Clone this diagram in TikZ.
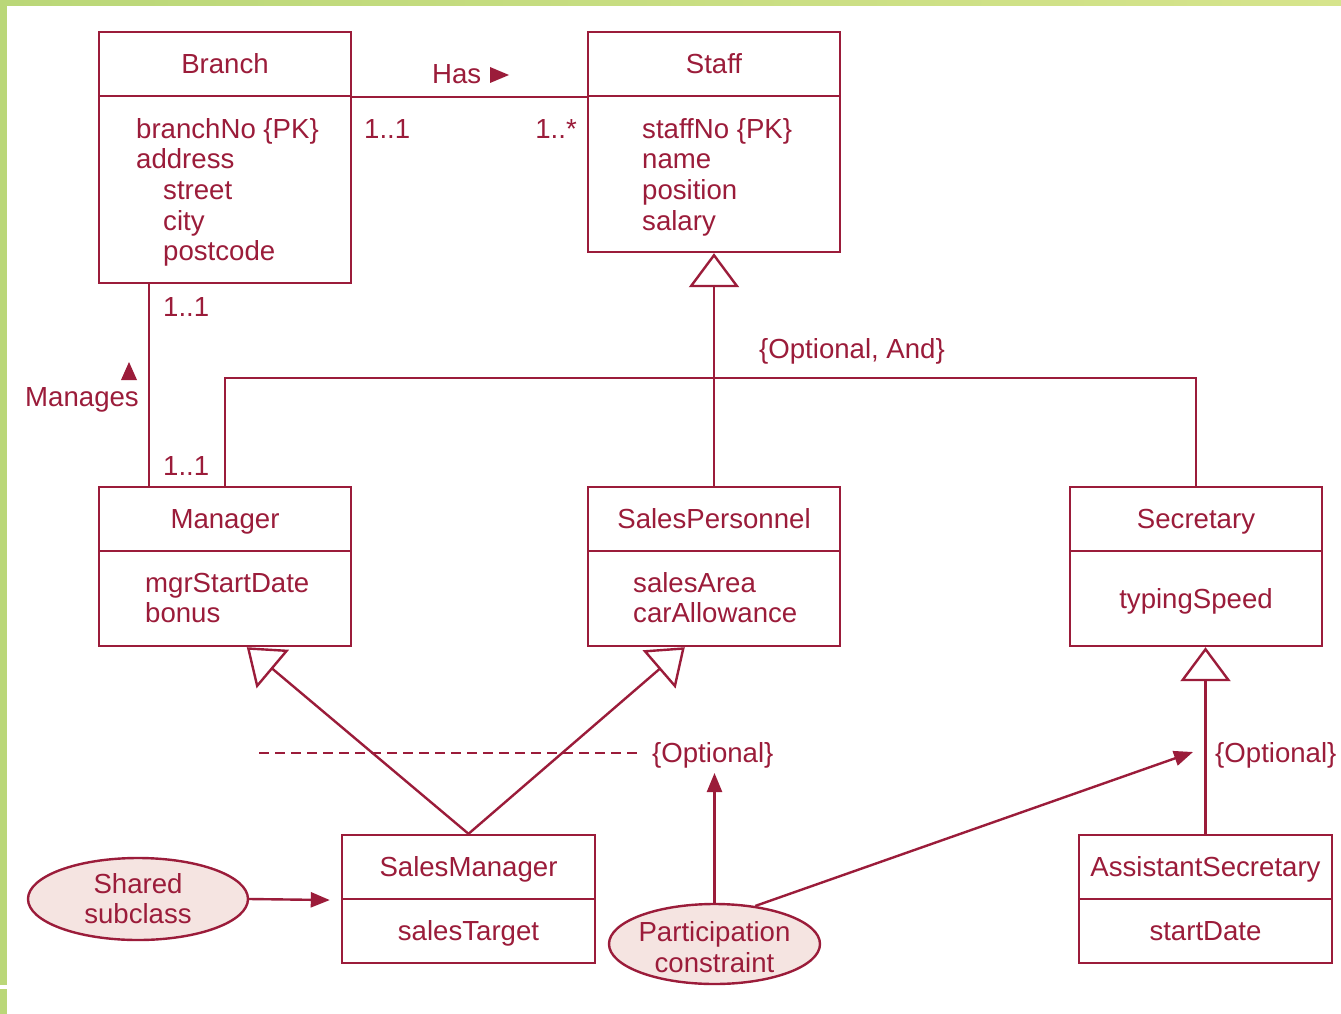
\documentclass[tikz,border=0pt]{standalone}
\usepackage{fontspec}
\setmainfont{Liberation Sans}
\usetikzlibrary{arrows.meta,shapes.geometric}
\definecolor{uml}{RGB}{155,28,58}
\definecolor{pinkfill}{RGB}{245,228,225}
\definecolor{grn}{RGB}{186,215,120}
\definecolor{grnl}{RGB}{214,228,140}
\begin{document}
\begin{tikzpicture}[x=1pt,y=-1pt,
  every node/.style={font=\fontsize{27.6pt}{30.6pt}\selectfont, text=uml},
  hdr/.style={draw=uml, line width=2.4pt, minimum width=252pt, minimum height=64pt, inner sep=0pt, text height=19pt, text depth=0pt},
  bodybox/.style={draw=uml, line width=2.4pt, minimum width=252pt, inner sep=0pt, text height=19pt, text depth=0pt},
  lbl/.style={inner sep=0pt, anchor=base west},
  conn/.style={draw=uml, line width=2.4pt, line join=miter},
  gen/.style={conn, -{Triangle[open,length=34pt,width=50pt]}},
  arr/.style={conn, -{Triangle[length=19pt,width=15pt]}},
  oval/.style={ellipse, draw=uml, fill=pinkfill, line width=2.4pt, minimum width=220pt, minimum height=82pt, inner sep=0pt},
]
\useasboundingbox (0,0) rectangle (1341,1014);
\fill[white] (0,0) rectangle (1341,1014);
\fill[grn] (0,0) rectangle (7,1014);
\shade[left color=grn, right color=grnl] (0,0) rectangle (1341,5.5);
\fill[white] (0,984.5) rectangle (7,988.5);

% classes
\node[hdr] (branch) at (225,64) {Branch};
\node[bodybox, minimum height=187pt] (branchb) at (225,189.5) {};
\node[hdr] (staff) at (714,64) {Staff};
\node[bodybox, minimum height=156pt] (staffb) at (714,174) {};
\node[hdr] (mgr) at (225,519) {Manager};
\node[bodybox, minimum height=95pt] (mgrb) at (225,598.5) {};
\node[hdr] (sp) at (714,519) {SalesPersonnel};
\node[bodybox, minimum height=95pt] (spb) at (714,598.5) {};
\node[hdr] (sec) at (1196,519) {Secretary};
\node[bodybox, minimum height=95pt] (secb) at (1196,598.5) {typingSpeed};
\node[hdr, minimum width=253pt] (sm) at (468.5,867) {SalesManager};
\node[bodybox, minimum width=253pt, minimum height=64pt] (smb) at (468.5,931) {salesTarget};
\node[hdr, minimum width=253pt] (asst) at (1205.5,867) {AssistantSecretary};
\node[bodybox, minimum width=253pt, minimum height=64pt] (asstb) at (1205.5,931) {startDate};

% attributes
\node[lbl] (ba) at (136,138.3) {\begin{tabular}[t]{@{}l@{}}branchNo \{PK\}\\address\\\hspace{27pt}street\\\hspace{27pt}city\\\hspace{27pt}postcode\end{tabular}};
\node[lbl] (sa) at (642,138.3) {\begin{tabular}[t]{@{}l@{}}staffNo \{PK\}\\name\\position\\salary\end{tabular}};
\node[lbl] (ma) at (145,592) {\begin{tabular}[t]{@{}l@{}}mgrStartDate\\bonus\end{tabular}};
\node[lbl] (spa) at (633,592) {\begin{tabular}[t]{@{}l@{}}salesArea\\carAllowance\end{tabular}};

% Has association
\draw[conn] (branch.south east) -- (staff.south west);
\node[lbl] (hasl) at (432,83.3) {Has};
\fill[uml] (490,67) -- (490,83) -- (509,75) -- cycle;
\node[lbl] (m1) at (364,138.3) {1..1};
\node[lbl, anchor=base east] (m2) at (577,138.3) {1..*};

% Manages association
\draw[conn] ([xshift=51pt]branchb.south west) -- ([xshift=51pt]mgr.north west);
\node[lbl] (m3) at (163,316) {1..1};
\node[lbl] (m4) at (163,475) {1..1};
\node[lbl, anchor=base] (manl) at (82,406) {Manages};
\fill[uml] (121,380) -- (137,380) -- (129,362) -- cycle;

% generalization Staff
\coordinate (jn) at (714,378);
\draw[gen] (sp.north) -- (staffb.south);
\draw[conn] (mgr.north) |- (jn) -| (sec.north);
\node[lbl, anchor=base] (oa) at (852,358) {\{Optional, And\}};

% SalesManager shared subclass
\draw[gen] (sm.north) -- ([xshift=149pt]mgrb.south west);
\draw[gen] (sm.north) -- ([xshift=98pt]spb.south west);
\node[lbl] (opt1) at (652,762) {\{Optional\}};
\coordinate (ds) at (259,753);
\draw[conn, dash pattern=on 10pt off 6pt] (ds) -- ([xshift=-11pt]ds -| opt1.west);

% Secretary -> AssistantSecretary
\draw[gen] (asst.north) -- (asst.north |- secb.south);
\node[lbl] (opt2) at (1215,762) {\{Optional\}};

% notes
\node[oval] (shared) at (138,899) {};
\node[lbl, anchor=base] (sht) at (138,893) {\begin{tabular}[t]{@{}c@{}}Shared\\subclass\end{tabular}};
\node[oval, minimum width=211pt, minimum height=80pt] (pc) at (714.5,944) {};
\node[lbl, anchor=base] (pct) at (714.5,941.5) {\begin{tabular}[t]{@{}c@{}}Participation\\constraint\end{tabular}};
\draw[arr, shorten >=11pt] (shared.east) -- (sm.south west);
\coordinate (pt1) at (714.5,773);
\draw[arr] (pc.north) -- (pt1);
\coordinate (pt2) at (1193,752);
\draw[arr] (pc.43) -- (pt2);
\end{tikzpicture}
\end{document}
